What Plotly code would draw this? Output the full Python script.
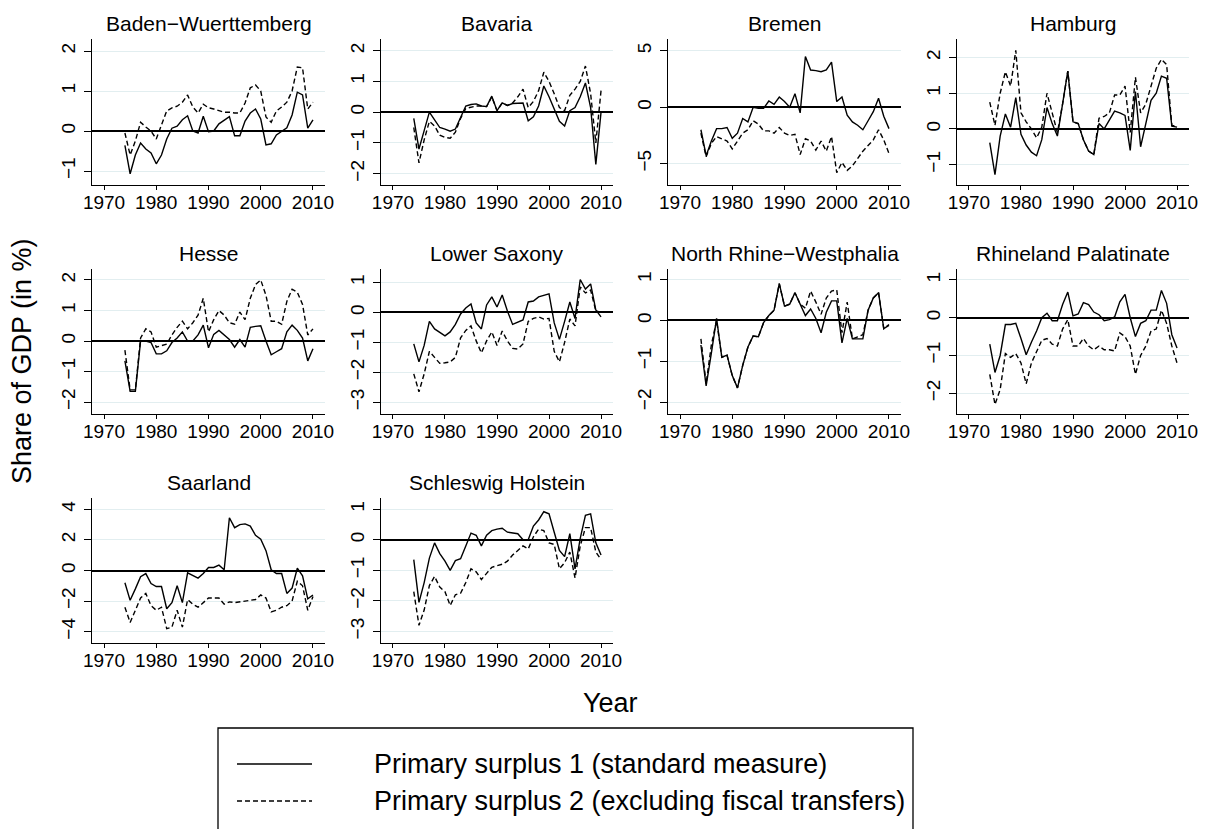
import plotly.graph_objects as go

years = list(range(1974, 2011))

state_names = ["Baden\u2212Wuerttemberg", "Bavaria", "Bremen", "Hamburg",
               "Hesse", "Lower Saxony", "North Rhine\u2212Westphalia", "Rhineland Palatinate",
               "Saarland", "Schleswig Holstein"]

bw_ps1 = [-0.36,-1.07,-0.6,-0.3,-0.45,-0.55,-0.82,-0.6,-0.2,0.07, 0.12,0.28,0.38,0.0,-0.05,0.37,-0.02,0.0,0.18,0.28,
          0.36,-0.12,-0.12,0.25,0.45,0.55,0.3,-0.35,-0.32,-0.1, -0.02,0.08,0.4,0.97,0.9,0.07,0.28]
bw_ps2 = [-0.05,-0.6,-0.25,0.22,0.1,0.0,-0.2,0.15,0.5,0.58, 0.62,0.72,0.9,0.6,0.45,0.67,0.58,0.55,0.5,0.47,
          0.47,0.45,0.45,0.7,1.08,1.15,1.0,0.35,0.22,0.5, 0.6,0.72,1.0,1.6,1.58,0.55,0.72]

by_ps1 = [-0.2,-1.2,-0.6,0.0,-0.25,-0.5,-0.55,-0.62,-0.55,-0.2, 0.2,0.25,0.27,0.2,0.18,0.52,0.05,0.3,0.22,0.28,
          0.3,0.3,-0.28,-0.15,0.2,0.85,0.5,0.12,-0.3,-0.45, 0.05,0.15,0.5,0.95,0.15,-1.7,0.0]
by_ps2 = [-0.5,-1.65,-0.9,-0.3,-0.45,-0.75,-0.82,-0.85,-0.65,-0.2, 0.12,0.15,0.2,0.2,0.18,0.5,0.05,0.3,0.22,0.3,
          0.5,0.75,0.15,0.35,0.7,1.3,1.0,0.6,0.15,0.05, 0.55,0.75,1.0,1.5,0.6,-1.0,0.7]

hb_ps1 = [-2.0,-4.3,-3.0,-1.9,-1.9,-1.8,-2.75,-2.3,-1.0,-1.3, 0.0,-0.1,-0.1,0.55,0.25,0.9,0.5,0.0,1.2,-0.5,
          4.5,3.3,3.25,3.15,3.3,4.0,0.5,0.9,-0.7,-1.3, -1.6,-2.0,-1.2,-0.4,0.8,-0.8,-1.9]
hb_ps2 = [-2.3,-4.4,-3.2,-2.6,-2.8,-3.0,-3.7,-3.0,-2.3,-2.0, -1.2,-1.5,-2.1,-2.1,-2.3,-1.8,-2.3,-2.5,-2.4,-4.2,
          -2.8,-3.0,-3.8,-3.0,-3.9,-2.6,-5.8,-4.9,-5.6,-5.2, -4.5,-3.9,-3.4,-2.9,-2.0,-2.9,-4.1]

hh_ps1 = [-0.38,-1.28,-0.2,0.42,0.05,0.88,-0.15,-0.45,-0.65,-0.75, -0.3,0.6,0.15,-0.2,0.7,1.62,0.2,0.15,-0.3,-0.62,
          -0.72,0.15,0.0,0.25,0.5,0.45,0.38,-0.6,1.05,-0.5, 0.15,0.8,1.0,1.48,1.42,0.08,0.05]
hh_ps2 = [0.75,0.1,1.0,1.6,1.2,2.2,0.45,0.2,0.0,-0.25, 0.05,1.0,0.45,-0.1,0.7,1.62,0.2,0.15,-0.3,-0.62,
          -0.72,0.3,0.35,0.45,0.95,0.95,1.2,-0.1,1.45,0.45, 0.7,1.2,1.7,1.95,1.8,0.1,0.08]

he_ps1 = [-0.65,-1.65,-1.65,0.0,0.0,-0.05,-0.42,-0.42,-0.32,-0.05, 0.1,0.3,0.0,0.0,0.2,0.52,-0.22,0.22,0.35,0.2,
          0.05,-0.2,0.05,-0.2,0.45,0.48,0.5,0.0,-0.45,-0.35, -0.25,0.3,0.52,0.35,0.1,-0.65,-0.25]
he_ps2 = [-0.3,-1.6,-1.6,0.1,0.4,0.3,-0.2,-0.15,-0.1,0.2, 0.45,0.65,0.4,0.6,0.85,1.4,0.3,0.7,1.0,0.85,
          0.6,0.55,0.95,0.7,1.4,1.85,2.0,1.5,0.65,0.65, 0.55,1.3,1.7,1.6,1.2,0.2,0.4]

ls_ps1 = [-1.05,-1.65,-1.1,-0.3,-0.55,-0.68,-0.78,-0.65,-0.4,-0.05, 0.15,0.28,-0.35,-0.55,0.25,0.52,0.18,0.58,0.05,-0.4,
          -0.32,-0.25,0.35,0.38,0.52,0.58,0.62,-0.35,-0.9,-0.3, 0.35,-0.2,1.1,0.78,0.95,0.08,-0.15]
ls_ps2 = [-2.05,-2.65,-2.05,-1.3,-1.5,-1.7,-1.68,-1.65,-1.5,-0.85, -0.6,-0.45,-0.95,-1.35,-0.95,-0.65,-1.1,-0.62,-0.95,-1.2,
          -1.22,-1.05,-0.3,-0.2,-0.15,-0.22,-0.2,-1.3,-1.65,-1.0, -0.22,-0.45,0.85,0.65,0.75,0.05,0.0]

nw_ps1 = [-0.6,-1.6,-0.8,0.05,-0.9,-0.85,-1.35,-1.65,-1.1,-0.65, -0.38,-0.4,-0.05,0.12,0.25,0.9,0.35,0.4,0.68,0.4,
          0.12,0.28,0.05,-0.3,0.2,0.48,0.48,-0.55,0.05,-0.45, -0.45,-0.45,0.25,0.55,0.68,-0.2,-0.12]
nw_ps2 = [-0.45,-1.55,-0.6,0.0,-0.9,-0.85,-1.35,-1.65,-1.1,-0.65, -0.38,-0.4,-0.05,0.12,0.25,0.9,0.35,0.4,0.68,0.4,
          0.3,0.72,0.45,0.15,0.55,0.72,0.75,-0.3,0.45,-0.45, -0.4,-0.35,0.25,0.55,0.68,-0.2,-0.1]

rp_ps1 = [-0.7,-1.45,-1.0,-0.18,-0.18,-0.15,-0.55,-0.98,-0.65,-0.35, 0.0,0.12,-0.08,-0.08,0.35,0.68,0.05,0.1,0.4,0.35,
          0.15,0.08,-0.08,-0.05,0.02,0.42,0.62,0.0,-0.5,-0.15, -0.08,0.2,0.2,0.72,0.38,-0.45,-0.8]
rp_ps2 = [-1.5,-2.3,-1.9,-0.95,-1.05,-0.95,-1.2,-1.75,-1.2,-0.9, -0.6,-0.55,-0.7,-0.75,-0.3,-0.05,-0.75,-0.75,-0.55,-0.75,
          -0.85,-0.75,-0.85,-0.85,-0.88,-0.4,-0.5,-0.75,-1.5,-1.0, -0.75,-0.35,-0.3,0.2,-0.15,-0.75,-1.2]

sl_ps1 = [-0.8,-1.95,-1.2,-0.4,-0.2,-0.85,-1.05,-1.05,-2.5,-2.1, -1.0,-2.1,-0.15,-0.35,-0.5,-0.2,0.2,0.2,0.35,0.05,
          3.45,2.8,3.0,3.05,2.9,2.3,2.05,1.3,0.05,-0.2, -0.2,-1.5,-1.15,0.15,-0.35,-1.85,-1.6]
sl_ps2 = [-2.4,-3.4,-2.6,-1.8,-1.5,-2.3,-2.6,-2.4,-3.8,-3.7, -2.6,-3.7,-1.9,-2.2,-2.4,-2.1,-1.8,-1.8,-1.8,-2.2,
          -2.05,-2.1,-2.05,-2.0,-1.95,-1.9,-1.6,-1.8,-2.7,-2.6, -2.4,-2.3,-2.0,-0.7,-1.0,-2.6,-1.7]

sh_ps1 = [-0.65,-2.05,-1.4,-0.6,-0.1,-0.45,-0.7,-1.0,-0.68,-0.62, -0.2,0.22,0.15,-0.2,0.15,0.3,0.35,0.38,0.25,0.22,
          0.2,0.0,0.0,0.45,0.65,0.92,0.85,0.25,-0.35,-0.55, 0.2,-0.95,0.05,0.8,0.85,-0.1,-0.5]
sh_ps2 = [-1.7,-2.8,-2.3,-1.5,-1.2,-1.55,-1.7,-2.15,-1.8,-1.75, -1.4,-0.95,-1.05,-1.3,-1.1,-0.9,-0.85,-0.8,-0.7,-0.5,
          -0.35,-0.2,-0.3,0.1,0.35,0.3,-0.1,-0.15,-0.95,-0.75, -0.4,-1.25,-0.2,0.4,0.4,-0.4,-0.65]

series_ps1 = [bw_ps1, by_ps1, hb_ps1, hh_ps1, he_ps1, ls_ps1, nw_ps1, rp_ps1, sl_ps1, sh_ps1]
series_ps2 = [bw_ps2, by_ps2, hb_ps2, hh_ps2, he_ps2, ls_ps2, nw_ps2, rp_ps2, sl_ps2, sh_ps2]

y_ticks = [[-1, 0, 1, 2], [-2, -1, 0, 1, 2], [-5, 0, 5], [-1, 0, 1, 2],
           [-2, -1, 0, 1, 2], [-3, -2, -1, 0, 1], [-2, -1, 0, 1], [-2, -1, 0, 1],
           [-4, -2, 0, 2, 4], [-3, -2, -1, 0, 1]]
y_ranges = [[-1.35, 2.3], [-2.37, 2.38], [-6.9, 6.05], [-1.57, 2.52],
            [-2.39, 2.36], [-3.39, 1.45], [-2.29, 1.26], [-2.55, 1.29],
            [-4.74, 4.74], [-3.38, 1.37]]
x_ticks = [1970, 1980, 1990, 2000, 2010]

legend_labels = ["Primary surplus 1 (standard measure)",
                 "Primary surplus 2 (excluding fiscal transfers)"]

# page body has an 8px margin: figure is sized/positioned to compensate
OFF = 8
W, H = 1208 - OFF, 829 - OFF


def fx(px):
    return (px - OFF) / W


def fy(py):
    return 1 - (py - OFF) / H


FONT = "Liberation Sans, Arial, Helvetica, sans-serif"
cols_px = [(92, 325), (381, 613), (668, 901), (957, 1189)]
rows_px = [(39, 185), (269, 414), (498, 643)]
title_y_px = [23, 253, 482]
GRID = "#e2eef0"
DASH = "5px,3px"

fig = go.Figure()
layout = dict(
    width=W, height=H, margin=dict(l=0, r=0, t=0, b=0, autoexpand=False),
    paper_bgcolor="white", plot_bgcolor="white",
    showlegend=False, font=dict(family=FONT, color="black"),
)
annotations = []
for i, name in enumerate(state_names):
    r, c = divmod(i, 4)
    sfx = "" if i == 0 else str(i + 1)
    xd = [fx(cols_px[c][0]), fx(cols_px[c][1])]
    yd = [fy(rows_px[r][1]), fy(rows_px[r][0])]
    layout["xaxis" + sfx] = dict(
        domain=xd, anchor="y" + sfx, range=[1967.7, 2012.3],
        tickvals=x_ticks, ticks="outside", ticklen=4, tickwidth=1, tickcolor="black",
        ticklabelstandoff=-4,
        showline=True, linecolor="black", linewidth=1.2, showgrid=False, zeroline=False,
        tickfont=dict(size=19, family=FONT, color="black"),
    )
    layout["yaxis" + sfx] = dict(
        domain=yd, anchor="x" + sfx, range=y_ranges[i],
        tickvals=y_ticks[i], ticks="outside", ticklen=7, tickwidth=1, tickcolor="black",
        tickangle=-90, ticklabelstandoff=1, showline=True, linecolor="black", linewidth=1.2,
        showgrid=True, gridcolor=GRID, gridwidth=1.2,
        zeroline=True, zerolinecolor="black", zerolinewidth=1.6,
        tickfont=dict(size=19, family=FONT, color="black"),
    )
    fig.add_trace(go.Scatter(x=years, y=series_ps2[i], mode="lines", name=legend_labels[1],
                             line=dict(color="black", width=1.4, dash=DASH),
                             xaxis="x" + sfx, yaxis="y" + sfx))
    fig.add_trace(go.Scatter(x=years, y=series_ps1[i], mode="lines", name=legend_labels[0],
                             line=dict(color="black", width=1.4),
                             xaxis="x" + sfx, yaxis="y" + sfx))
    annotations.append(dict(
        text=name, x=(xd[0] + xd[1]) / 2, y=fy(title_y_px[r]),
        xref="paper", yref="paper", xanchor="center", yanchor="middle",
        showarrow=False, font=dict(size=21, family=FONT, color="black"),
    ))

annotations.append(dict(text="Year", x=fx(610), y=fy(703), xref="paper", yref="paper",
                        xanchor="center", yanchor="middle", showarrow=False,
                        font=dict(size=27, family=FONT, color="black")))
annotations.append(dict(text="Share of GDP (in %)", x=fx(22), y=fy(361), xref="paper", yref="paper",
                        xanchor="center", yanchor="middle", textangle=-90, showarrow=False,
                        font=dict(size=27, family=FONT, color="black")))

shapes = [
    dict(type="rect", xref="paper", yref="paper", x0=fx(218), x1=fx(913),
         y0=-0.02, y1=fy(728), line=dict(color="black", width=1.3), fillcolor="rgba(0,0,0,0)"),
    dict(type="line", xref="paper", yref="paper", x0=fx(237), x1=fx(312),
         y0=fy(764), y1=fy(764), line=dict(color="black", width=1.6)),
    dict(type="line", xref="paper", yref="paper", x0=fx(237), x1=fx(312),
         y0=fy(801), y1=fy(801), line=dict(color="black", width=1.6, dash=DASH)),
]
for lbl, ypx in zip(legend_labels, [764, 801]):
    annotations.append(dict(text=lbl, x=fx(372), y=fy(ypx), xref="paper", yref="paper",
                            xanchor="left", yanchor="middle", showarrow=False,
                            font=dict(size=27, family=FONT, color="black")))

layout["annotations"] = annotations
layout["shapes"] = shapes
fig.update_layout(**layout)
fig.write_html("out.html")
